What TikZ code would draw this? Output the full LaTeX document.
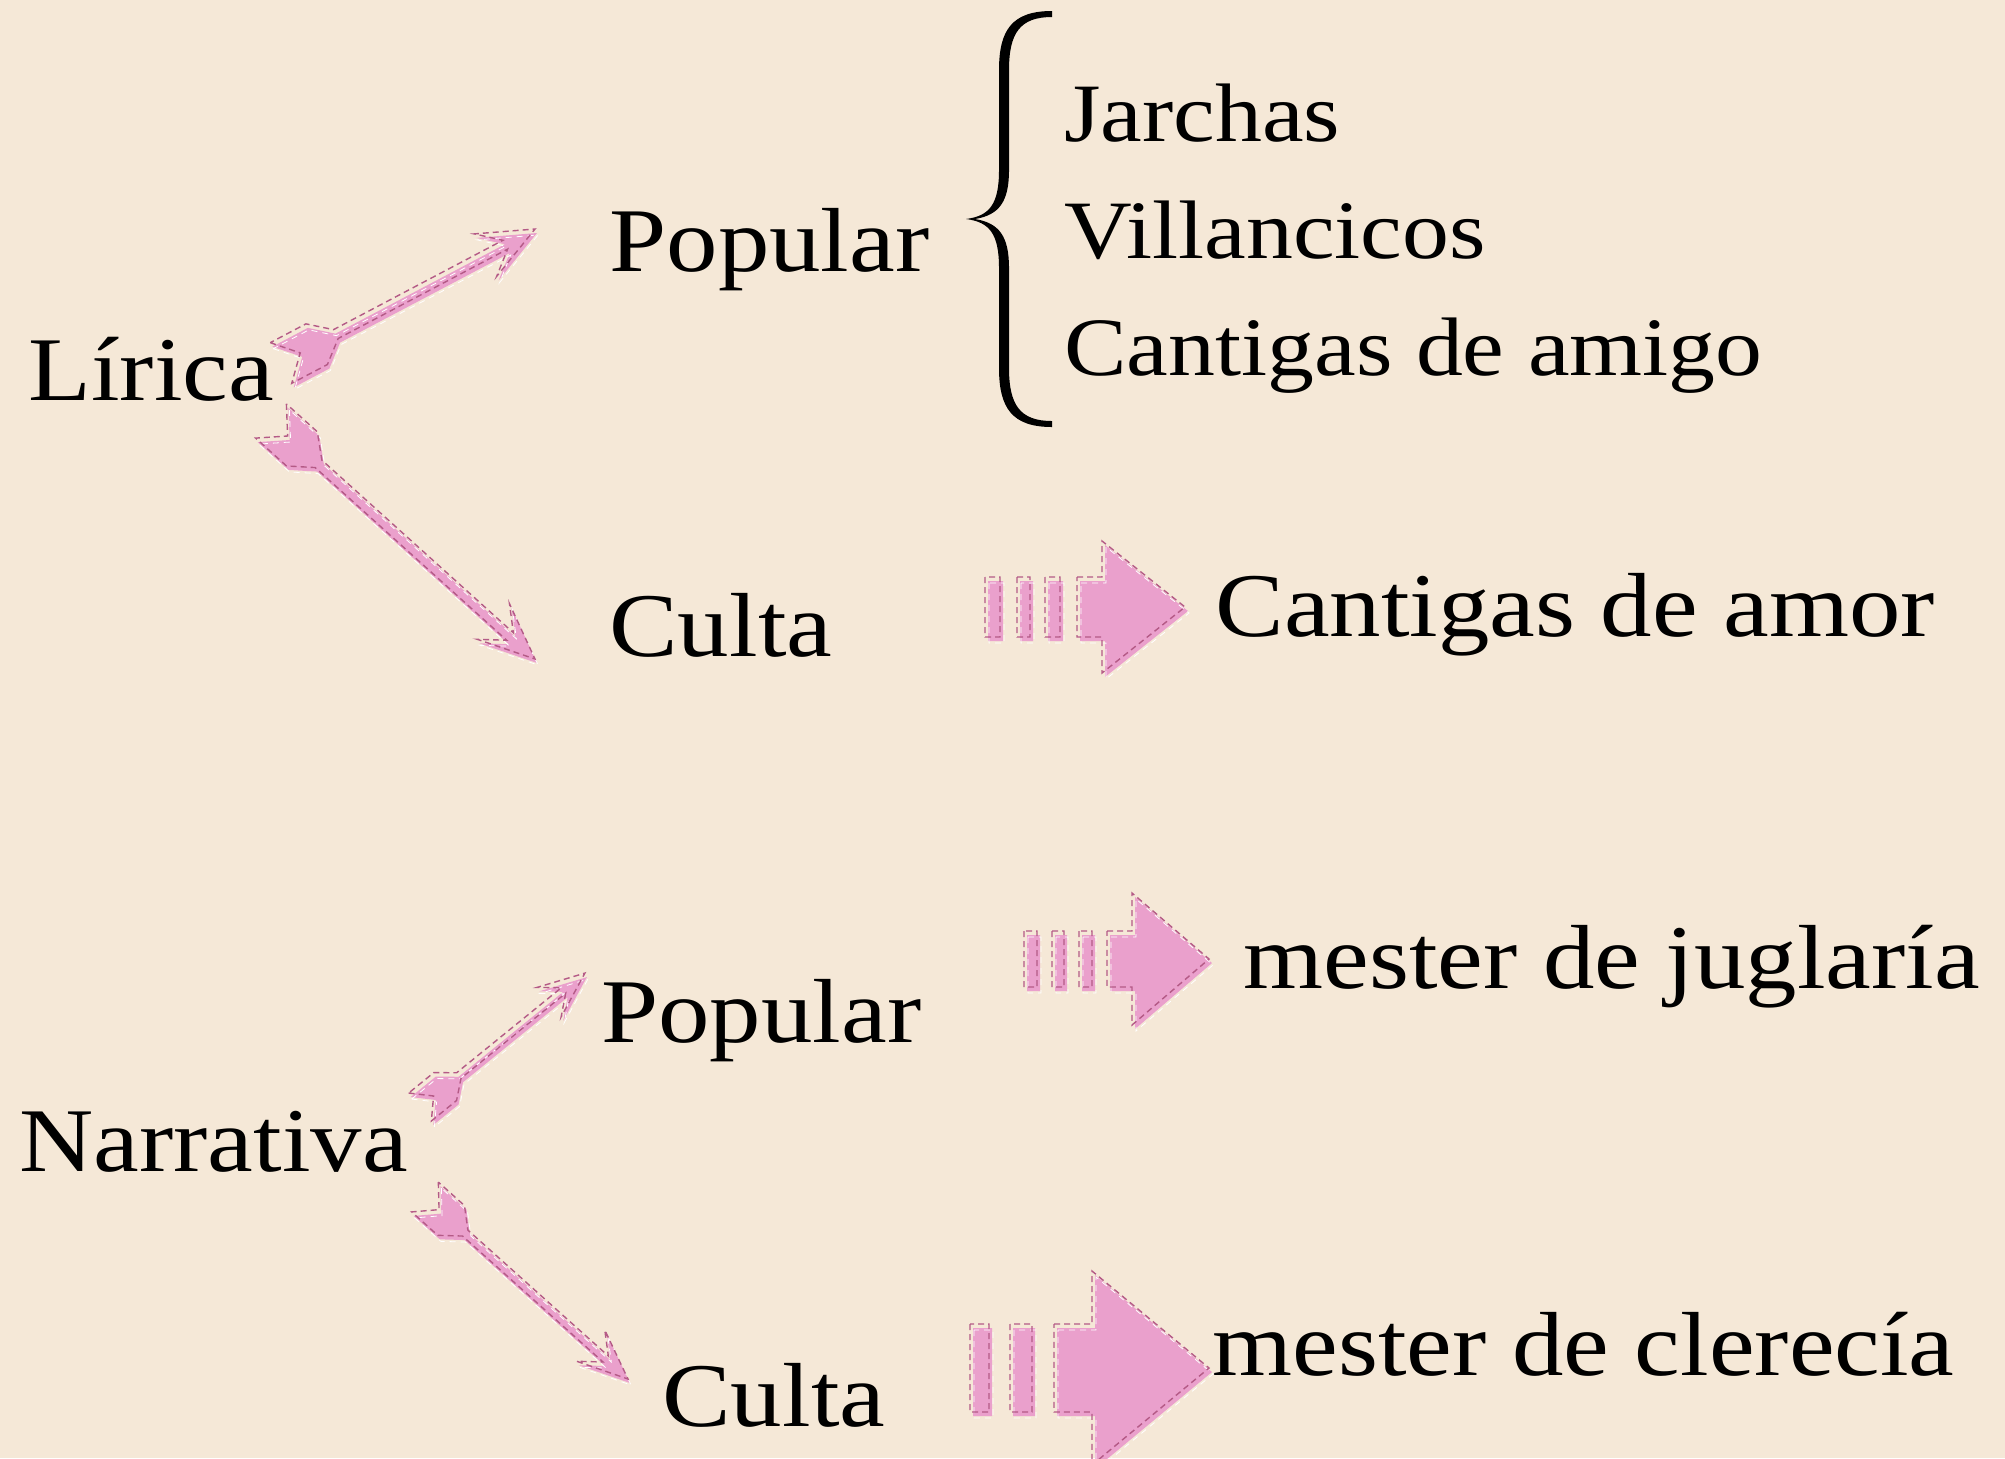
\documentclass[tikz,border=0pt]{standalone}
\usepackage{fontspec}
\setmainfont{Liberation Serif}[FakeStretch=1.13]
\usetikzlibrary{calc}
\definecolor{bg}{HTML}{F5E8D7}
\definecolor{apink}{HTML}{EAA0CC}
\definecolor{adash}{HTML}{B45A86}
\tikzset{
  lbl/.style={anchor=base west, inner sep=0pt, font=\fontsize{45.5pt}{50pt}\selectfont},
  itemlbl/.style={anchor=base west, inner sep=0pt, font=\fontsize{41.5pt}{46pt}\selectfont},
  afill/.style={fill=apink},
  adashed/.style={draw=adash, line width=0.7pt, dash pattern=on 3pt off 2pt},
  awhite/.style={draw=white, line width=0.4pt, dash pattern=on 3pt off 2.5pt},
  bracestyle/.style={fill=black}
}
% local point: u along the arrow, v across it (both in pt), for the arrow from \p2 at angle \n1
\newcommand{\lpt}[2]{([shift={(\p2)},shift={(\offs)},rotate=\n1]{#1},{#2})}
% polygon of a fletched arrow from tail #1 to head #2
% #3 shaft half width, #4 fletch half width, #5 fletch length, #6 head length, #7 head half width (all px)
\newcommand{\fpoly}[7]{%
 let \p1=($(#2)-(#1)$), \p2=(#1), \n1={atan2(\y1,\x1)}, \n2={veclen(\x1,\y1)} in
 \lpt{0pt}{0.5pt*#4} -- \lpt{0.175pt*#5}{0pt} -- \lpt{0pt}{-0.5pt*#4} -- \lpt{0.325pt*#5}{-0.5pt*#4} --
 \lpt{0.5pt*#5}{-0.5pt*#3} -- \lpt{\n2-0.3pt*#6}{-0.5pt*#3} -- \lpt{\n2-0.5pt*#6}{-0.5pt*#7} --
 \lpt{\n2+0pt}{0pt} --
 \lpt{\n2-0.5pt*#6}{0.5pt*#7} -- \lpt{\n2-0.3pt*#6}{0.5pt*#3} -- \lpt{0.5pt*#5}{0.5pt*#3} --
 \lpt{0.325pt*#5}{0.5pt*#4} -- cycle}
\newcommand{\fletcharrow}[7]{%
  \def\offs{0,0}\path[afill] \fpoly{#1}{#2}{#3}{#4}{#5}{#6}{#7};
  \def\offs{1,2}\path[awhite] \fpoly{#1}{#2}{#3}{#4}{#5}{#6}{#7};
  \def\offs{-2,-4}\path[adashed] \fpoly{#1}{#2}{#3}{#4}{#5}{#6}{#7};
}
\newcommand{\blockA}[1]{%
 \path[#1] (988,581) rectangle (1003,641) (1020,581) rectangle (1033,641) (1048,581) rectangle (1063,641)
   (1080,581) -- (1105,581) -- (1105,545) -- (1188,611) -- (1105,677) -- (1105,641) -- (1080,641) -- cycle;}
\newcommand{\blockB}[1]{%
 \path[#1] (1027,935) rectangle (1040,991) (1055,935) rectangle (1067,991) (1082,935) rectangle (1095,991)
   (1110,935) -- (1135,935) -- (1135,897) -- (1212,963) -- (1135,1029) -- (1135,991) -- (1110,991) -- cycle;}
\newcommand{\blockC}[1]{%
 \path[#1] (973,1328) rectangle (992,1416) (1013,1328) rectangle (1035,1416)
   (1057,1328) -- (1095,1328) -- (1095,1275) -- (1212,1372) -- (1095,1469) -- (1095,1416) -- (1057,1416) -- cycle;}
\begin{document}
\begin{tikzpicture}[x=0.5pt,y=-0.5pt]
\fill[bg] (0,0) rectangle (2005,1458);
\useasboundingbox (0,0) rectangle (2005,1458);

% text nodes
\node[lbl] (lirica) at (28,400) {Lírica};
\node[lbl] (pop1) at (609,271) {Popular};
\node[lbl] (culta1) at (609,656) {Culta};
\node[itemlbl] (jarchas) at (1064,141) {Jarchas};
\node[itemlbl] (villan) at (1064,258) {Villancicos};
\node[itemlbl] (amigo) at (1064,375) {Cantigas de amigo};
\node[lbl] (amor) at (1215,636) {Cantigas de amor};
\node[lbl] (narr) at (19,1171) {Narrativa};
\node[lbl] (pop2) at (601,1042) {Popular};
\node[lbl] (culta2) at (662,1426) {Culta};
\node[lbl] (jugl) at (1243,988) {mester de juglaría};
\node[lbl] (cler) at (1212,1375) {mester de clerecía};

% brace
\path[bracestyle] (1052,11) .. controls (1012,11) and (999,30) .. (999,70) -- (999,170)
  .. controls (999,205) and (989,216) .. (966,219)
  .. controls (989,222) and (999,233) .. (999,268) -- (999,368)
  .. controls (999,408) and (1012,427) .. (1052,427) -- (1052,421)
  .. controls (1020,421) and (1009,405) .. (1009,368) -- (1009,268)
  .. controls (1009,236) and (999,223) .. (975,219)
  .. controls (999,215) and (1009,202) .. (1009,170) -- (1009,70)
  .. controls (1009,33) and (1020,17) .. (1052,17) -- cycle;

% arrow end points
\coordinate (a1t) at (283,367);
\coordinate (a1h) at (537,233);
\coordinate (a2t) at (273,425);
\coordinate (a2h) at (537,663);
\coordinate (a3t) at (422,1111);
\coordinate (a3h) at (587,977);
\coordinate (a4t) at (427,1201);
\coordinate (a4h) at (630,1383);

\fletcharrow{a1t}{a1h}{5}{23}{62}{56}{24}
\fletcharrow{a2t}{a2h}{5}{23}{64}{56}{24}
\fletcharrow{a3t}{a3h}{3.5}{18}{50}{46}{19}
\fletcharrow{a4t}{a4h}{4}{20}{54}{50}{21}

% block arrows
\blockA{afill}
\blockA{awhite, shift={(1,2)}}
\blockA{adashed, shift={(-3,-4)}}
\blockB{afill}
\blockB{awhite, shift={(1,2)}}
\blockB{adashed, shift={(-3,-4)}}
\blockC{afill}
\blockC{awhite, shift={(1,2)}}
\blockC{adashed, shift={(-3,-4)}}
\end{tikzpicture}
\end{document}
